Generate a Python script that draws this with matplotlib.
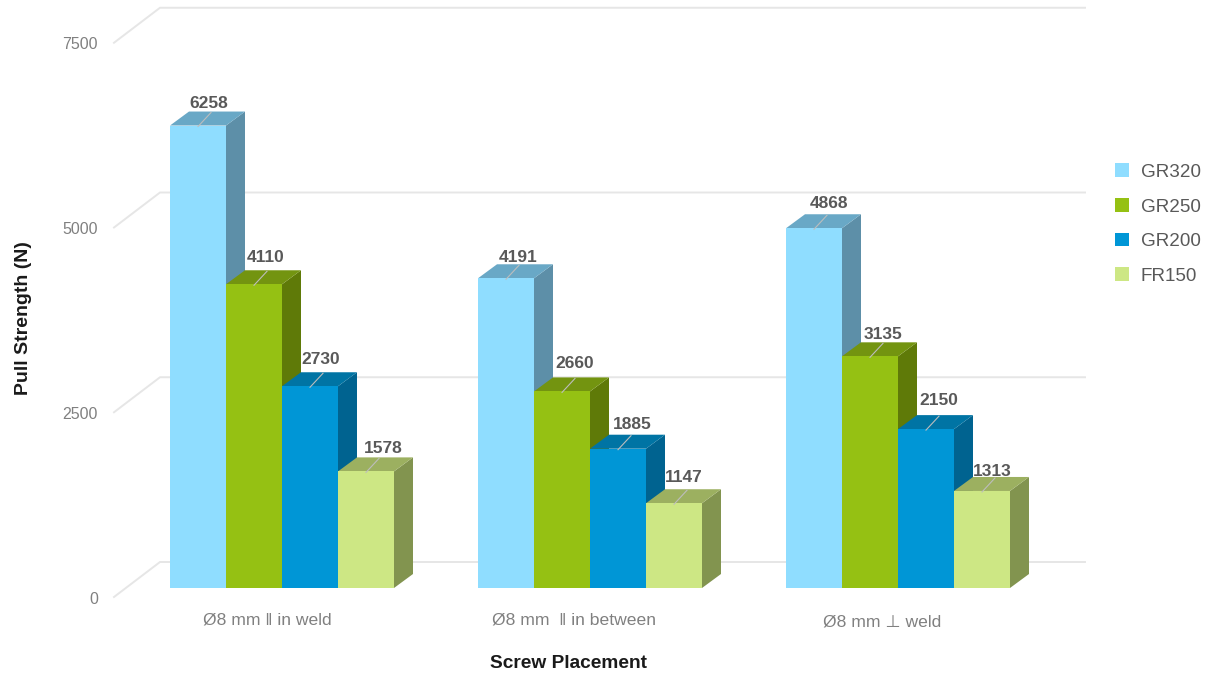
import matplotlib
matplotlib.use("Agg")
import matplotlib.pyplot as plt
from matplotlib.patches import Polygon, Patch

plt.rcParams['font.family'] = ['Liberation Sans', 'DejaVu Sans']

placements = ['Ø8 mm ‖ in weld', 'Ø8 mm  ‖ in between', 'Ø8 mm ⊥ weld']
grades = ['GR320', 'GR250', 'GR200', 'FR150']
gr320 = [6258, 4191, 4868]
gr250 = [4110, 2660, 3135]
gr200 = [2730, 1885, 2150]
fr150 = [1578, 1147, 1313]
yticks = [0, 2500, 5000, 7500]

front_cols = ['#8FDDFF', '#95C113', '#0096D6', '#CDE784']
top_cols = ['#69A8C6', '#739410', '#0074A4', '#9CB060']
side_cols = ['#5D8FA8', '#5F7A08', '#006390', '#82944F']

# the value labels were placed by hand in the original: (px right, px down) per bar
nudges = [
    [(-1, 2), (0, -3), (-1, -3), (5, 1)],
    [(0, 3), (1, -4), (2, 0), (-2, -2)],
    [(3, -1), (1, 2), (1, -5), (-2, 5)],
]

W, H = 1214, 674
BAR_PX = 56.0          # bar width in px = 1 x unit
PX_PER_VAL = 0.0739    # px per N
BASE_X, BASE_Y = 170, 588
GROUP_STEP = 308 / BAR_PX

# px -> data unit helpers
def dx(px):
    return px / BAR_PX

def dy(px):
    return px / PX_PER_VAL

fig = plt.figure(figsize=(W / 100, H / 100), dpi=100)
ax = fig.add_axes([0, 0, 1, 1])
ax.set_xlim(-dx(BASE_X), dx(W - BASE_X))
ax.set_ylim(-dy(H - BASE_Y), dy(BASE_Y))
ax.axis('off')

# back wall grid and the slanted ticks on the left
for v in yticks:
    x_front, x_back, x_end = -dx(56), -dx(10), dx(915)
    y_front, y_back = v - dy(9), v + dy(26)
    ax.plot([x_front, x_back, x_end], [y_front, y_back, y_back],
            color='#E6E6E6', lw=1.4, zorder=1, solid_joinstyle='miter')
    ax.text(-dx(72), y_front - dy(2), str(v), ha='right', va='center',
            fontsize=11.5, color='#808080')

depth_x, depth_y = dx(19), dy(14)
series = [gr320, gr250, gr200, fr150]
for g in range(len(placements)):
    for s, vals in enumerate(series):
        v = vals[g]
        x0 = g * GROUP_STEP + s
        x1 = x0 + 1
        side = [(x1, 0), (x1 + depth_x, depth_y), (x1 + depth_x, v + depth_y), (x1, v)]
        top = [(x0, v), (x1, v), (x1 + depth_x, v + depth_y), (x0 + depth_x, v + depth_y)]
        front = [(x0, 0), (x1, 0), (x1, v), (x0, v)]
        z = 2 + g * 10 + s
        ax.add_patch(Polygon(side, fc=side_cols[s], ec='none', zorder=z))
        ax.add_patch(Polygon(top, fc=top_cols[s], ec='none', zorder=z))
        ax.add_patch(Polygon(front, fc=front_cols[s], ec='none', zorder=z))
        xc = x0 + 0.5
        ax.plot([xc, xc + dx(13)], [v - dy(1), v + dy(13)], color='#BDBDBD', lw=0.8, zorder=z + 0.5)
        nx, ny = nudges[g][s]
        ax.text(xc + dx(12 + nx), v + dy(24 - ny), str(v), ha='center', va='center',
                fontsize=12.5, fontweight='bold', color='#595959', zorder=50)

label_x = [1.74, 7.22, 12.72]
label_y = [-dy(32), -dy(32), -dy(34)]
for g, name in enumerate(placements):
    ax.text(label_x[g], label_y[g], name, ha='center', va='center',
            fontsize=12.6, color='#808080')

ax.text(dx(398), -dy(75.5), 'Screw Placement', ha='center', va='center',
        fontsize=13.8, fontweight='bold', color='#1A1A1A')
ax.text(-dx(146), dy(270), 'Pull Strength (N)', rotation=90, ha='center', va='center',
        fontsize=14, fontweight='bold', color='#1A1A1A')

handles = [Patch(fc=c, ec='none') for c in front_cols]
fig.legend(handles, grades, loc='center left', bbox_to_anchor=(0.9185, 0.6675),
           frameon=False, fontsize=13.6, labelcolor='#595959', handlelength=0.74,
           handleheight=0.74, handletextpad=0.63, labelspacing=0.91, borderpad=0, borderaxespad=0)

fig.savefig('out.png', dpi=100)
